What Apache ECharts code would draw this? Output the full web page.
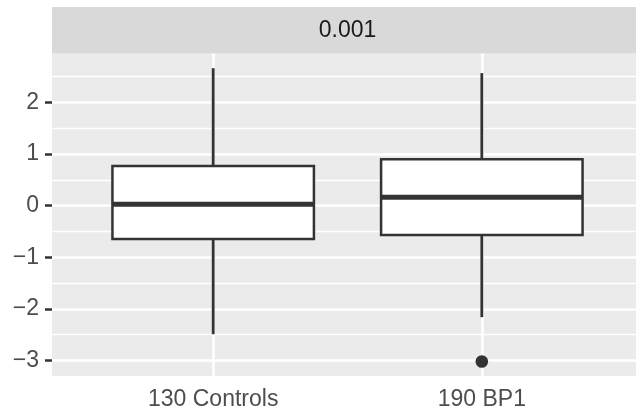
<!DOCTYPE html>
<html>
<head>
<meta charset="utf-8">
<script src="https://cdn.jsdelivr.net/npm/echarts@6/dist/echarts.min.js"></script>
<style>
  html, body { margin: 0; padding: 0; background: #fff; }
  #chart { width: 636px; height: 413px; }
</style>
</head>
<body>
<div id="chart"></div>
<script>
  // facet strip + groups
  var facetLabel = '0.001';
  var groups = ['130 Controls', '190 BP1'];
  // box stats per group
  var whiskerLow  = [-2.49, -2.16];
  var q1          = [-0.645, -0.568];
  var median      = [0.027, 0.163];
  var q3          = [0.77, 0.90];
  var whiskerHigh = [2.665, 2.57];
  // outliers: [group position, value]
  var outliers = [[2, -3.02]];
  // axis ticks
  var xTicks = [1, 2];
  var yTicks = [-3, -2, -1, 0, 1, 2];
  var yMinor = [-2.5, -1.5, -0.5, 0.5, 1.5, 2.5];

  var boxData = groups.map(function (g, i) {
    return [i + 1, whiskerLow[i], q1[i], median[i], q3[i], whiskerHigh[i]];
  });

  var ink = '#333333';
  var font = 'Liberation Sans, Arial, sans-serif';
  var fs = 23;

  function minusFmt(v) {
    return v < 0 ? '\u2212' + (-v) : String(v);
  }

  var myChart = echarts.init(document.getElementById('chart'));
  var option = {
    animation: false,
    backgroundColor: '#ffffff',
    grid: {
      left: 52, top: 53.5, width: 591, height: 322.5,
      outerBoundsMode: 'none', containLabel: false,
      show: true, backgroundColor: '#EBEBEB', borderWidth: 0
    },
    graphic: [
      { type: 'rect', shape: { x: 52, y: 7, width: 591, height: 46.5 },
        style: { fill: '#D9D9D9' }, silent: true },
      { type: 'text', x: 347.5, y: 31,
        style: { text: facetLabel, fill: '#1A1A1A', font: fs + 'px ' + font,
                 textAlign: 'center', textVerticalAlign: 'middle' }, silent: true }
    ],
    xAxis: {
      type: 'value', min: 0.4, max: 2.6,
      axisLine: { show: false },
      axisTick: { show: true, length: 7, customValues: xTicks,
                  lineStyle: { color: ink, width: 2.5 } },
      axisLabel: {
        customValues: xTicks, margin: 12, color: '#4D4D4D',
        fontSize: fs, fontFamily: font,
        formatter: function (v) { return groups[Math.round(v) - 1]; }
      },
      splitLine: { show: true, lineStyle: { color: '#ffffff', width: 2.6 } }
    },
    yAxis: [{
      type: 'value', min: -3.30, max: 2.95,
      axisLine: { show: false },
      axisTick: { show: true, length: 7, customValues: yTicks,
                  lineStyle: { color: ink, width: 2.5 } },
      axisLabel: {
        customValues: yTicks, margin: 13, color: '#4D4D4D',
        fontSize: fs, fontFamily: font, formatter: minusFmt
      },
      splitLine: { show: true, lineStyle: { color: '#ffffff', width: 2.6 } }
    }, {
      // minor grid lines only
      type: 'value', min: -3.30, max: 2.95, position: 'left',
      axisLine: { show: false },
      axisTick: { show: false, customValues: yMinor },
      axisLabel: { show: false, customValues: yMinor },
      splitLine: { show: true, lineStyle: { color: '#ffffff', width: 1.4 } }
    }],
    series: [{
      type: 'custom',
      data: boxData,
      z: 3,
      renderItem: function (params, api) {
        var x = api.value(0);
        var half = api.size([0.375, 0])[0];
        var lo = api.coord([x, api.value(1)]);
        var b1 = api.coord([x, api.value(2)]);
        var md = api.coord([x, api.value(3)]);
        var b3 = api.coord([x, api.value(4)]);
        var hi = api.coord([x, api.value(5)]);
        var ls = { stroke: ink, lineWidth: 2.8 };
        return {
          type: 'group',
          children: [
            { type: 'line', shape: { x1: lo[0], y1: lo[1], x2: b1[0], y2: b1[1] }, style: ls },
            { type: 'line', shape: { x1: b3[0], y1: b3[1], x2: hi[0], y2: hi[1] }, style: ls },
            { type: 'rect', shape: { x: b3[0] - half, y: b3[1], width: half * 2, height: b1[1] - b3[1] },
              style: { fill: '#ffffff', stroke: ink, lineWidth: 2.5 } },
            { type: 'line', shape: { x1: md[0] - half, y1: md[1], x2: md[0] + half, y2: md[1] },
              style: { stroke: ink, lineWidth: 5 } }
          ]
        };
      }
    }, {
      type: 'scatter',
      data: outliers,
      symbolSize: 12.6,
      itemStyle: { color: ink, opacity: 1 },
      z: 4
    }]
  };
  myChart.setOption(option);
</script>
</body>
</html>
